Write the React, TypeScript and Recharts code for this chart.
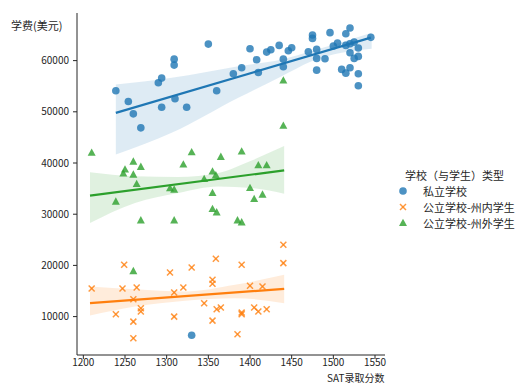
import React from "react";
import {
  ComposedChart,
  Scatter,
  Line,
  Area,
  XAxis,
  YAxis,
} from "recharts";

// 私立学校
const privateSat = [1239, 1254, 1260, 1269, 1290, 1294, 1294, 1309, 1309, 1310, 1324, 1350, 1360, 1380, 1390, 1400, 1408, 1410, 1420, 1425, 1435, 1440, 1440, 1446, 1450, 1470, 1475, 1475, 1480, 1480, 1480, 1490, 1496, 1500, 1505, 1510, 1515, 1515, 1515, 1520, 1520, 1520, 1520, 1525, 1525, 1530, 1530, 1530, 1530, 1545, 1330];
const privateFee = [54100, 52000, 49600, 46870, 55670, 56580, 50900, 60290, 59120, 52540, 50900, 63230, 54100, 57430, 58610, 62330, 60180, 57690, 61660, 62130, 62970, 60290, 58800, 61930, 62520, 61740, 64990, 64340, 62190, 60430, 58140, 60370, 65460, 62840, 63420, 58280, 65260, 62970, 57550, 66360, 63300, 61550, 58610, 63620, 60430, 62450, 60820, 57430, 55090, 64540, 6360];

// 公立学校-州内学生
const inStateSat = [1210, 1239, 1249, 1247, 1260, 1260, 1260, 1264, 1269, 1269, 1304, 1309, 1309, 1320, 1330, 1345, 1355, 1355, 1355, 1359, 1360, 1365, 1390, 1390, 1390, 1385, 1400, 1405, 1410, 1415, 1420, 1440, 1440];
const inStateFee = [15480, 10470, 20120, 15480, 13400, 9020, 5770, 15680, 11640, 10980, 18610, 14700, 10000, 15680, 19590, 12620, 17180, 16400, 9220, 21290, 11440, 11760, 20120, 10780, 10470, 6560, 16010, 11760, 10980, 15870, 11440, 24030, 20450];

// 公立学校-州外学生
const outStateSat = [1210, 1239, 1248, 1250, 1260, 1260, 1269, 1264, 1269, 1304, 1309, 1309, 1320, 1330, 1345, 1355, 1359, 1355, 1355, 1360, 1365, 1385, 1390, 1390, 1400, 1405, 1410, 1415, 1420, 1440, 1440, 1260];
const outStateFee = [41980, 32450, 37930, 38710, 40270, 37730, 39240, 35910, 28790, 35050, 34800, 28790, 39690, 42090, 36890, 38320, 37590, 34150, 31020, 30350, 41190, 28790, 28400, 42230, 35130, 32970, 39550, 33820, 39550, 56130, 47260, 18880];

// regression lines
const privateLineX = [1239, 1545];
const privateLineY = [49800, 64480];
const inStateLineX = [1208, 1441];
const inStateLineY = [12620, 15420];
const outStateLineX = [1208, 1441];
const outStateLineY = [33620, 38570];

// confidence bands
const privateBandX = [1239, 1306, 1386, 1438, 1474, 1546];
const privateBandLo = [41640, 45890, 52740, 56970, 59900, 62330];
const privateBandHi = [55320, 56650, 58920, 60230, 61860, 65460];
const inStateBandX = [1208, 1262, 1322, 1382, 1441];
const inStateBandLo = [10200, 11960, 13100, 13600, 12620];
const inStateBandHi = [15900, 15360, 14900, 16200, 18160];
const outStateBandX = [1208, 1262, 1314, 1362, 1402, 1441];
const outStateBandLo = [28280, 32190, 34150, 35400, 35100, 34000];
const outStateBandHi = [38180, 37400, 37280, 38060, 40500, 43300];

const xTicks = [1200, 1250, 1300, 1350, 1400, 1450, 1500, 1550];
const yTicks = [10000, 20000, 30000, 40000, 50000, 60000];

const BLUE = "#1f77b4";
const ORANGE = "#ff7f0e";
const GREEN = "#2ca02c";
const AXIS = "#262626";
const FONT = "'Noto Sans CJK SC', sans-serif";

const pts = (xs: number[], ys: number[]) => xs.map((x, i) => ({ x, y: ys[i] }));
const band = (xs: number[], lo: number[], hi: number[]) =>
  xs.map((x, i) => ({ x, range: [lo[i], hi[i]] }));

const DotShape = (p: any) => (
  <circle cx={p.cx} cy={p.cy} r={3.8} fill={BLUE} fillOpacity={0.8} />
);
const CrossShape = (p: any) => (
  <g stroke={ORANGE} strokeOpacity={0.8} strokeWidth={1.5}>
    <line x1={p.cx - 3} y1={p.cy - 3} x2={p.cx + 3} y2={p.cy + 3} />
    <line x1={p.cx - 3} y1={p.cy + 3} x2={p.cx + 3} y2={p.cy - 3} />
  </g>
);
const TriShape = (p: any) => (
  <polygon
    points={`${p.cx},${p.cy - 4.3} ${p.cx - 4},${p.cy + 3} ${p.cx + 4},${p.cy + 3}`}
    fill={GREEN}
    fillOpacity={0.8}
  />
);

const legendItems = [
  { name: "私立学校", Shape: DotShape },
  { name: "公立学校-州内学生", Shape: CrossShape },
  { name: "公立学校-州外学生", Shape: TriShape },
];

const LegendBox = () => (
  <div style={{ position: "absolute", left: 397, top: 167, fontSize: 11, color: AXIS, lineHeight: "16px" }}>
    <div style={{ paddingLeft: 8 }}>学校（与学生）类型</div>
    {legendItems.map(({ name, Shape }) => (
      <div key={name} style={{ display: "flex", alignItems: "center", height: 16 }}>
        <svg width={26} height={16}>
          <Shape cx={6} cy={8} />
        </svg>
        <span>{name}</span>
      </div>
    ))}
  </div>
);

export default function App() {
  return (
    <div style={{ position: "absolute", left: 0, top: 0, width: 516, height: 385, background: "#fff", fontFamily: FONT }}>
      <ComposedChart width={516} height={385} margin={{ top: 13, right: 131, left: 0, bottom: 0 }}>
        <XAxis
          type="number"
          dataKey="x"
          domain={[1192.4, 1562]}
          ticks={xTicks}
          allowDataOverflow
          height={30}
          stroke={AXIS}
          tick={{ fill: AXIS, fontSize: 10, fontFamily: FONT }}
          tickSize={4}
          tickMargin={0}
        />
        <YAxis
          type="number"
          domain={[2500, 69300]}
          ticks={yTicks}
          allowDataOverflow
          width={77}
          stroke={AXIS}
          tick={{ fill: AXIS, fontSize: 10, fontFamily: FONT }}
          tickSize={4}
          tickMargin={4}
        />
        <Scatter data={pts(privateSat, privateFee)} dataKey="y" shape={DotShape} isAnimationActive={false} />
        <Area data={band(privateBandX, privateBandLo, privateBandHi)} dataKey="range" type="monotone" fill={BLUE} fillOpacity={0.15} stroke="none" isAnimationActive={false} />
        <Line data={pts(privateLineX, privateLineY)} dataKey="y" type="linear" stroke={BLUE} strokeWidth={2.2} dot={false} isAnimationActive={false} />

        <Scatter data={pts(inStateSat, inStateFee)} dataKey="y" shape={CrossShape} isAnimationActive={false} />
        <Area data={band(inStateBandX, inStateBandLo, inStateBandHi)} dataKey="range" type="monotone" fill={ORANGE} fillOpacity={0.15} stroke="none" isAnimationActive={false} />
        <Line data={pts(inStateLineX, inStateLineY)} dataKey="y" type="linear" stroke={ORANGE} strokeWidth={2.2} dot={false} isAnimationActive={false} />

        <Scatter data={pts(outStateSat, outStateFee)} dataKey="y" shape={TriShape} isAnimationActive={false} />
        <Area data={band(outStateBandX, outStateBandLo, outStateBandHi)} dataKey="range" type="monotone" fill={GREEN} fillOpacity={0.15} stroke="none" isAnimationActive={false} />
        <Line data={pts(outStateLineX, outStateLineY)} dataKey="y" type="linear" stroke={GREEN} strokeWidth={2.2} dot={false} isAnimationActive={false} />
      </ComposedChart>
      <LegendBox />
      <div style={{ position: "absolute", left: 11, top: 17, fontSize: 11, color: AXIS, lineHeight: "16px" }}>
        学费(美元)
      </div>
      <div style={{ position: "absolute", left: 327, top: 372, fontSize: 10, color: AXIS, lineHeight: "12px" }}>
        SAT录取分数
      </div>
    </div>
  );
}
